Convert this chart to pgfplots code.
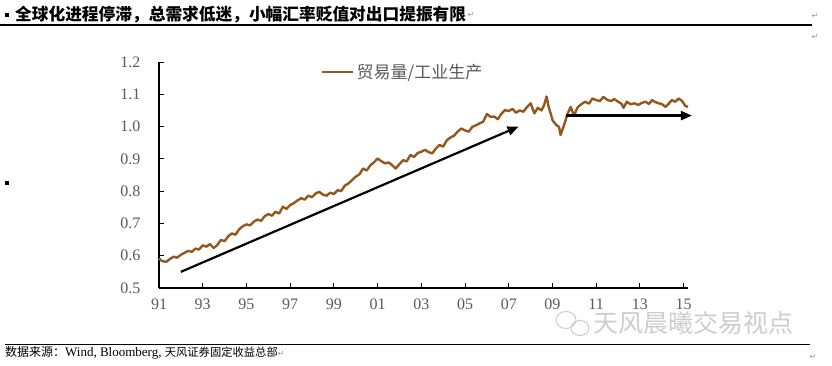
\documentclass[border=0pt]{standalone}
\usepackage{pgfplots}
\pgfplotsset{compat=1.18}
\usetikzlibrary{arrows.meta}
\usepackage{fontspec}
\setmainfont{Liberation Serif}
\newfontfamily\cjk{Noto Sans CJK SC}
\newfontfamily\dejavu{DejaVu Sans}
\definecolor{series}{RGB}{148,88,30}
\definecolor{labgray}{RGB}{89,89,89}
\definecolor{wmgray}{RGB}{205,205,205}
\definecolor{pmgray}{RGB}{150,150,150}
\begin{document}
\begin{tikzpicture}[x=1pt,y=1pt]
\useasboundingbox (0,0) rectangle (832,366);
% header
\fill (5,349) rectangle (9,353);
\node[anchor=west, inner sep=0pt, font=\cjk\bfseries\fontsize{16.7}{17}\selectfont] (T) at (15,351) {全球化进程停滞，总需求低迷，小幅汇率贬值对出口提振有限};
\node[anchor=west, inner sep=1pt, font=\dejavu\fontsize{8}{8}\selectfont, text=pmgray] at (T.east) {↵};
\draw[line width=1.8pt] (0,341) -- (812,341);
\node[font=\dejavu\fontsize{8}{8}\selectfont, text=pmgray] at (815,350) {↵};
\node[font=\dejavu\fontsize{8}{8}\selectfont, text=pmgray] at (815,329) {↵};
\fill (5,181) rectangle (9,185);
% footer
\draw[line width=1.2pt] (5,21.5) -- (810,21.5);
\node[anchor=west, inner sep=0pt, font=\fontsize{13}{13}\selectfont] at (5,13) {{\cjk\fontsize{12}{12}\selectfont 数据来源：}Wind, Bloomberg, {\cjk\fontsize{11.3}{12}\selectfont 天风证券固定收益总部}{\dejavu\fontsize{8}{8}\selectfont\color{pmgray}↵}};
\node[font=\dejavu\fontsize{8}{8}\selectfont, text=pmgray] at (813,9) {↵};
% watermark
\draw[wmgray, line width=1pt] (566,46) ellipse (10 and 8.5);
\draw[wmgray, line width=1pt] (580,38) ellipse (9 and 7.5);
\node[anchor=west, inner sep=0pt, font=\cjk\fontsize{25}{25}\selectfont, text=wmgray] at (593,43) {天风晨曦交易视点};
\begin{axis}[
  at={(159pt,78pt)}, anchor=south west,
  scale only axis, width=529pt, height=226pt,
  xmin=1991, xmax=2015.2, ymin=0.5, ymax=1.2,
  axis x line*=bottom, axis y line*=left,
  axis line style={-, line width=1.1pt, black},
  xtick={1991,1993,1995,1997,1999,2001,2003,2005,2007,2009,2011,2013,2015},
  xticklabels={91,93,95,97,99,01,03,05,07,09,11,13,15},
  ytick={0.5,0.6,0.7,0.8,0.9,1.0,1.1,1.2},
  tick align=inside, major tick length=5pt,
  tick style={black, line width=1pt},
  ticklabel style={font=\fontsize{16}{16}\selectfont, text=labgray},
  yticklabel style={/pgf/number format/.cd, fixed, fixed zerofill, precision=1, assume math mode=true, /tikz/.cd, xshift=-15pt},
  xticklabel style={yshift=-7pt},
  clip=false,
  legend style={at={(0.306,0.956)}, anchor=west, draw=none, fill=none, inner sep=0pt,
    font=\cjk\fontsize{17}{17}\selectfont, text=labgray, nodes={inner sep=2pt}},
  legend image code/.code={\draw[series, line width=2.6pt] (0pt,0pt) -- (31pt,0pt);},
]
\addplot[series, line width=2.4pt, line join=round] coordinates {
(1991.00,0.592) (1991.08,0.586) (1991.17,0.583) (1991.33,0.581) (1991.50,0.590) (1991.67,0.597) (1991.83,0.594)
(1992.00,0.603) (1992.17,0.609) (1992.33,0.615) (1992.50,0.612) (1992.67,0.622) (1992.83,0.619)
(1993.00,0.632) (1993.17,0.628) (1993.33,0.636) (1993.50,0.624) (1993.67,0.633) (1993.83,0.649)
(1994.00,0.645) (1994.17,0.660) (1994.33,0.669) (1994.50,0.665) (1994.67,0.682) (1994.83,0.691)
(1995.00,0.697) (1995.17,0.694) (1995.33,0.705) (1995.50,0.712) (1995.67,0.708) (1995.83,0.722)
(1996.00,0.729) (1996.17,0.724) (1996.33,0.736) (1996.50,0.731) (1996.67,0.752) (1996.83,0.745)
(1997.00,0.757) (1997.17,0.763) (1997.33,0.771) (1997.50,0.778) (1997.67,0.774) (1997.83,0.786)
(1998.00,0.781) (1998.17,0.793) (1998.33,0.798) (1998.50,0.789) (1998.67,0.786) (1998.83,0.795)
(1999.00,0.791) (1999.17,0.803) (1999.33,0.800) (1999.50,0.817) (1999.67,0.824) (1999.83,0.834)
(2000.00,0.845) (2000.17,0.852) (2000.33,0.870) (2000.50,0.864) (2000.67,0.880) (2000.83,0.889)
(2001.00,0.901) (2001.17,0.893) (2001.33,0.886) (2001.50,0.889) (2001.67,0.880) (2001.83,0.870)
(2002.00,0.884) (2002.17,0.896) (2002.33,0.892) (2002.50,0.912) (2002.67,0.906) (2002.83,0.918)
(2003.00,0.922) (2003.17,0.928) (2003.33,0.921) (2003.50,0.917) (2003.67,0.932) (2003.83,0.943)
(2004.00,0.938) (2004.17,0.958) (2004.33,0.966) (2004.50,0.972) (2004.67,0.985) (2004.83,0.994)
(2005.00,0.988) (2005.17,0.984) (2005.33,0.999) (2005.50,1.004) (2005.67,1.010) (2005.83,1.015)
(2006.00,1.039) (2006.17,1.030) (2006.33,1.031) (2006.50,1.023) (2006.67,1.040) (2006.83,1.051)
(2007.00,1.048) (2007.17,1.055) (2007.33,1.043) (2007.50,1.050) (2007.67,1.046) (2007.83,1.060)
(2008.00,1.072) (2008.17,1.041) (2008.33,1.058) (2008.50,1.050) (2008.62,1.067) (2008.73,1.093)
(2008.83,1.060) (2008.92,1.040) (2009.00,1.020) (2009.17,1.005) (2009.30,0.999) (2009.37,0.974)
(2009.50,0.999) (2009.58,1.015) (2009.67,1.036) (2009.83,1.061) (2009.92,1.045)
(2010.00,1.034) (2010.08,1.050) (2010.17,1.061) (2010.33,1.070) (2010.50,1.077) (2010.67,1.071) (2010.83,1.087)
(2011.00,1.082) (2011.17,1.079) (2011.33,1.092) (2011.50,1.083) (2011.67,1.079) (2011.83,1.085)
(2012.00,1.077) (2012.17,1.070) (2012.25,1.058) (2012.40,1.077) (2012.58,1.069) (2012.75,1.072) (2012.92,1.067)
(2013.08,1.073) (2013.25,1.077) (2013.42,1.070) (2013.55,1.082) (2013.70,1.076) (2013.86,1.072)
(2014.00,1.070) (2014.17,1.061) (2014.33,1.072) (2014.46,1.082) (2014.62,1.077) (2014.77,1.087) (2014.92,1.080)
(2015.08,1.064) (2015.20,1.061)
};
\addlegendentry{贸易量/工业生产}
\draw[black, line width=2.2pt, -{Triangle[length=11pt,width=9pt]}] (axis cs:1992,0.55) -- (axis cs:2007.45,1.0);
\draw[black, line width=2.2pt, -{Triangle[length=11pt,width=9pt]}] (axis cs:2009.6,1.034) -- (axis cs:2015.38,1.034);
\end{axis}
\end{tikzpicture}
\end{document}
